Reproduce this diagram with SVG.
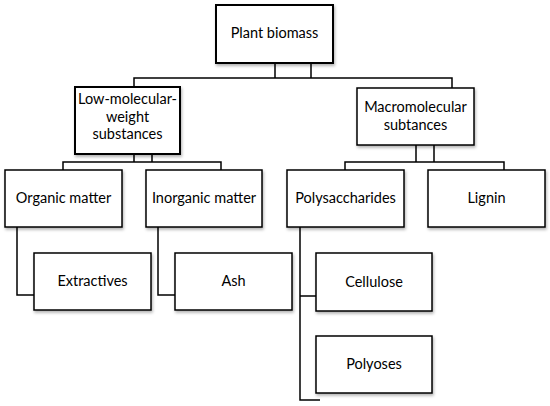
<svg xmlns="http://www.w3.org/2000/svg" width="550" height="406" viewBox="0 0 550 406">
<defs>
<filter id="sh" x="-10%" y="-10%" width="125%" height="135%">
<feDropShadow dx="1" dy="2" stdDeviation="1.5" flood-color="#000" flood-opacity="0.3"/>
</filter>
</defs>
<style>
.box{fill:#fff;stroke:#000;stroke-width:1.5;filter:url(#sh)}
.thick{stroke-width:2}
.t{font-family:Lato,"Open Sans","Liberation Sans",sans-serif;font-size:14.5px;fill:#000;text-anchor:middle}
.c{fill:none;stroke:#000;stroke-width:1.5}
</style>
<rect width="550" height="406" fill="#fff"/>
<g id="connectors">
<path class="c" d="M275,63V78M311,63V78M134,86V78H452V88"/>
<path class="c" d="M134,154V162M152,154V162M63,170V162H221V170"/>
<path class="c" d="M416,145V162M434,145V162M345,170V162H504V170"/>
<path class="c" d="M17,227V295H34"/>
<path class="c" d="M158,227V295H175"/>
<path class="c" d="M300,227V400H320M300,296H316"/>
</g>
<g id="plant-biomass">
<rect class="box thick" x="216" y="5" width="117" height="58"/>
<text class="t" x="274.5" y="38">Plant biomass</text>
</g>
<g id="low-molecular">
<rect class="box thick" x="75" y="87" width="105" height="67"/>
<text class="t" x="127.5" y="104">Low-molecular-</text>
<text class="t" x="127.5" y="121.5">weight</text>
<text class="t" x="127.5" y="139">substances</text>
</g>
<g id="macromolecular">
<rect class="box" x="357" y="88" width="117" height="57"/>
<text class="t" x="415.5" y="112">Macromolecular</text>
<text class="t" x="415.5" y="130">subtances</text>
</g>
<g id="organic">
<rect class="box" x="5" y="170" width="117" height="57"/>
<text class="t" x="63.5" y="203">Organic matter</text>
</g>
<g id="inorganic">
<rect class="box" x="146" y="170" width="116" height="57"/>
<text class="t" x="204" y="203">Inorganic matter</text>
</g>
<g id="polysaccharides">
<rect class="box" x="287" y="170" width="117" height="57"/>
<text class="t" x="345.5" y="203">Polysaccharides</text>
</g>
<g id="lignin">
<rect class="box" x="428" y="170" width="117" height="57"/>
<text class="t" x="486.5" y="203">Lignin</text>
</g>
<g id="extractives">
<rect class="box" x="34" y="253" width="117" height="57"/>
<text class="t" x="92.5" y="286">Extractives</text>
</g>
<g id="ash">
<rect class="box" x="175" y="253" width="117" height="57"/>
<text class="t" x="233.5" y="286">Ash</text>
</g>
<g id="cellulose">
<rect class="box" x="316" y="253" width="116" height="58"/>
<text class="t" x="374" y="287">Cellulose</text>
</g>
<g id="polyoses">
<rect class="box" x="316" y="336" width="116" height="57"/>
<text class="t" x="374" y="369">Polyoses</text>
</g>
</svg>
